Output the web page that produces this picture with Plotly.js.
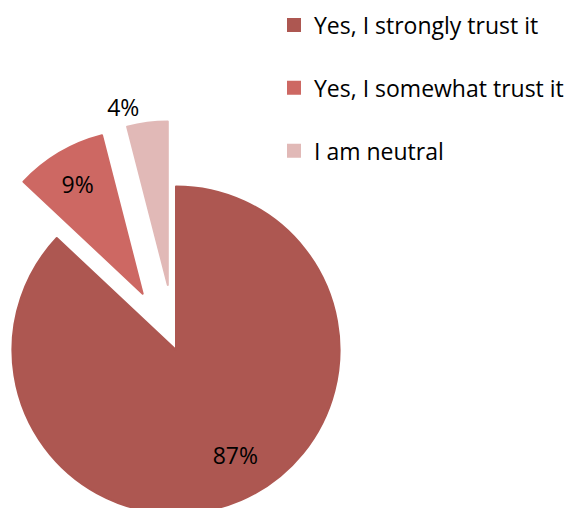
<!DOCTYPE html>
<html>
<head>
<meta charset="utf-8">
<script src="https://cdn.plot.ly/plotly-3.0.1.min.js"></script>
<style>
  html, body { margin: 0; padding: 0; width: 569px; height: 508px; overflow: hidden; background: #ffffff; }
  #chart { position: absolute; left: -53px; top: 0px; }
</style>
</head>
<body>
<div id="chart"></div>
<script>
// Data
const categories = ["Yes, I strongly trust it", "Yes, I somewhat trust it", "I am neutral"];
const shares = [87, 9, 4];
const sliceColors = ["#AD5751", "#CD6863", "#E1B9B7"];

// Figure geometry (larger than the viewport so the pie can run off the left/bottom edges)
const FIG_W = 622, FIG_H = 579, BOX = 458;
const NB = "\u00a0";

const legendLabels = categories.map(c => c + "<br> ");
// label placement padding (invisible characters nudge the label position like the reference)
const textTemplates = [
  NB + "<br>" + NB + "<br>" + NB.repeat(9) + "%{percent}",
  "%{percent}",
  NB.repeat(5) + "%{percent}"
];

const trace = {
  type: "pie",
  labels: legendLabels,
  values: shares,
  sort: false,
  direction: "clockwise",
  rotation: 0,
  pull: [0, 0.4, 0.4],
  marker: { colors: sliceColors, line: { color: sliceColors, width: 2 } },
  texttemplate: textTemplates,
  textposition: ["inside", "inside", "outside"],
  insidetextorientation: "horizontal",
  textfont: { family: "Open Sans", size: 23, color: "#000000" },
  insidetextfont: { family: "Open Sans", size: 23, color: "#000000" },
  outsidetextfont: { family: "Open Sans", size: 23, color: "#000000" },
  domain: { x: [0, BOX / FIG_W], y: [0, BOX / FIG_H] },
  hoverinfo: "none"
};

const layout = {
  width: FIG_W,
  height: FIG_H,
  margin: { l: 0, r: 0, t: 0, b: 0 },
  paper_bgcolor: "#ffffff",
  plot_bgcolor: "#ffffff",
  font: { family: "Open Sans", size: 23, color: "#000000" },
  showlegend: true,
  legend: {
    x: 0.5257, xanchor: "left",
    y: 0.9938, yanchor: "top",
    valign: "top",
    font: { family: "Open Sans", size: 23, color: "#000000" },
    bgcolor: "rgba(0,0,0,0)",
    borderwidth: 0,
    traceorder: "normal"
  }
};

Plotly.newPlot("chart", [trace], layout, { displayModeBar: false, staticPlot: true });
</script>
</body>
</html>
